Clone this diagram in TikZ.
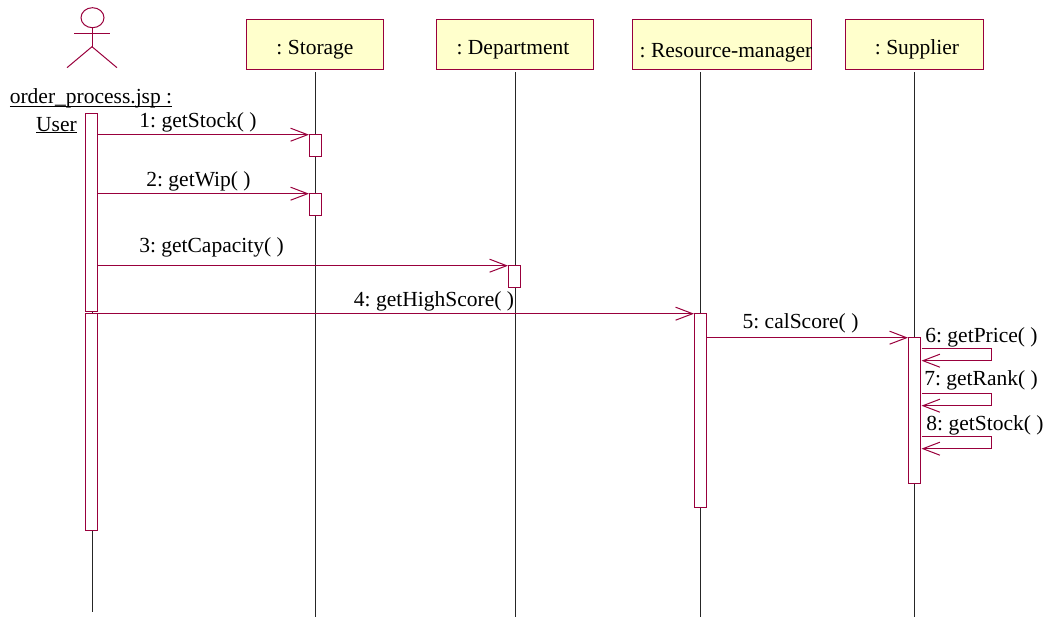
\documentclass[tikz,border=0pt]{standalone}
\usepackage{fontspec}
\setmainfont{Liberation Serif}
\usetikzlibrary{arrows.meta}
\definecolor{umlline}{RGB}{153,0,60}
\definecolor{umlfill}{RGB}{255,255,204}
\tikzset{
  obj/.style={draw=umlline,fill=umlfill,line width=1pt,minimum height=50pt,inner sep=0pt},
  act/.style={draw=umlline,fill=white,line width=1pt,minimum width=12pt,inner sep=0pt,outer sep=0pt,anchor=north},
  life/.style={draw=black!85,line width=0.9pt},
  msg/.style={draw=umlline,line width=1pt,-{Straight Barb[length=17pt,width=13pt,line width=1pt]}},
  lbl/.style={anchor=base,inner sep=0pt},
}
\frenchspacing
\begin{document}
\begin{tikzpicture}[x=1pt,y=-1pt]
\tikzstyle{every node}=[font=\fontsize{21.5}{24}\selectfont,text=black]
\useasboundingbox (0,-0.7) rectangle (1050,616.3);

% Draw the lifelines
\coordinate (userend) at (92,611);
\coordinate (userstart) at (92,113);
\coordinate (storageend) at (315,617);
\coordinate (departmentend) at (515,617);
\coordinate (managerend) at (700,617);
\coordinate (supplierend) at (914,617);
\draw[life] (userstart) -- (userend);

% Draw the object boxes
\node[obj,minimum width=137pt] (storage) at (314.5,44) {};
\node[lbl] (storagetxt) at (315,54) {: Storage};
\node[obj,minimum width=157pt] (department) at (514.5,44) {};
\node[lbl] (departmenttxt) at (513,54) {: Department};
\node[obj,minimum width=179pt] (manager) at (721.5,44) {};
\node[lbl] (managertxt) at (726,56.5) {: Resource-manager};
\node[obj,minimum width=138pt] (supplier) at (914,44) {};
\node[lbl] (suppliertxt) at (917,54) {: Supplier};

\draw[life] (storage.south -| storageend) ++(0,2) -- (storageend);
\draw[life] (department.south -| departmentend) ++(0,2) -- (departmentend);
\draw[life] (manager.south -| managerend) ++(0,2) -- (managerend);
\draw[life] (supplier.south -| supplierend) ++(0,2) -- (supplierend);

% Draw the actor
\draw[draw=umlline,line width=1pt] (92.5,17) ellipse (11.5 and 10);
\coordinate (neck) at (92,27);
\coordinate (hip) at (92,46);
\coordinate (armleft) at (74,32.5);
\coordinate (armright) at (110,32.5);
\coordinate (legleft) at (67,67);
\coordinate (legright) at (117,67);
\draw[draw=umlline,line width=1pt] (neck) -- (hip);
\draw[draw=umlline,line width=1pt] (armleft) -- (armright);
\draw[draw=umlline,line width=1pt] (legleft) -- (hip) -- (legright);
\node[lbl] (actorname) at (91,103) {\underline{\smash{order\_process.jsp :}\rule[-1.2pt]{0pt}{0pt}}};
\node[lbl] (actorrole) at (56.5,130.5) {\underline{\smash{User}}};

% Draw the activation bars
\node[act,minimum height=198pt] (useracta) at (91,113) {};
\node[act,minimum height=217pt] (useractb) at (91,313) {};
\node[act,minimum height=22pt] (stockact) at (315,134) {};
\node[act,minimum height=22pt] (wipact) at (315,193) {};
\node[act,minimum height=22pt] (capacityact) at (514,265) {};
\node[act,minimum height=194pt] (manageract) at (700,313) {};
\node[act,minimum height=146pt] (supplieract) at (914,337) {};

% Draw the messages
\draw[msg] (useracta.east |- stockact.north) -- (stockact.north west);
\draw[msg] (useracta.east |- wipact.north) -- (wipact.north west);
\draw[msg] (useracta.east |- capacityact.north) -- (capacityact.north west);
\draw[msg] (useractb.north east) -- (manageract.north west);
\draw[msg] (manageract.east |- supplieract.north) -- (supplieract.north west);

% Draw the self messages on the supplier
\coordinate (priceout) at (921.5,348);
\coordinate (pricein) at (921.5,360);
\coordinate (rankout) at (921.5,393);
\coordinate (rankin) at (921.5,405);
\coordinate (stockout) at (921.5,436);
\coordinate (stockin) at (921.5,448);
\draw[msg] (priceout) -- (991.5,348) -- (991.5,360) -- (pricein);
\draw[msg] (rankout) -- (991.5,393) -- (991.5,405) -- (rankin);
\draw[msg] (stockout) -- (991.5,436) -- (991.5,448) -- (stockin);

% Draw the message labels
\node[lbl] (msga) at (198,127) {1: getStock( )};
\node[lbl] (msgb) at (198.5,186) {2: getWip( )};
\node[lbl] (msgc) at (211.5,252) {3: getCapacity( )};
\node[lbl] (msgd) at (434,306) {4: getHighScore( )};
\node[lbl] (msge) at (800.5,328) {5: calScore( )};
\node[lbl] (msgf) at (981.5,342) {6: getPrice( )};
\node[lbl] (msgg) at (981,385) {7: getRank( )};
\node[lbl] (msgh) at (985,430) {8: getStock( )};

\end{tikzpicture}
\end{document}
